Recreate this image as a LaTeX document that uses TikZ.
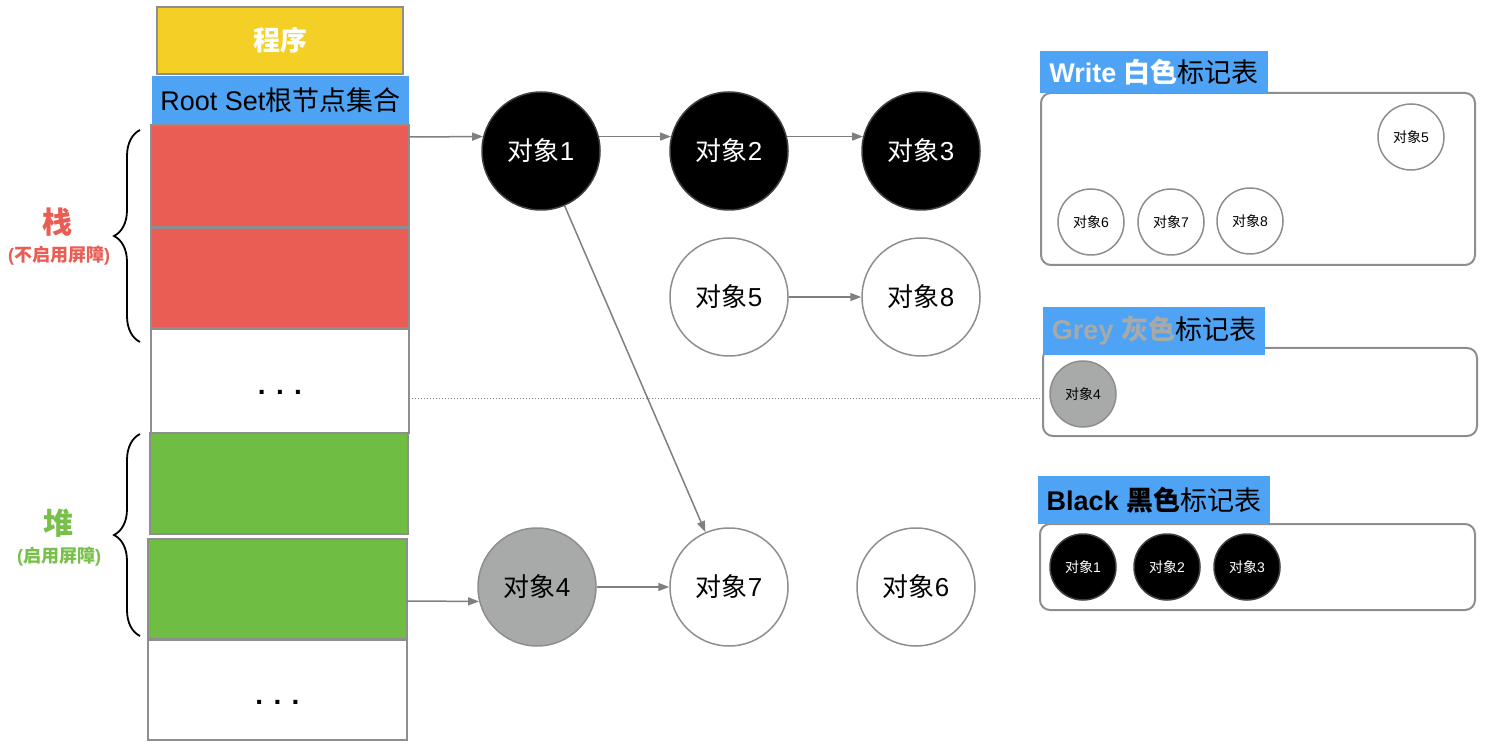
\documentclass[tikz,border=0pt]{standalone}
\usepackage{fontspec}
\setmainfont{Liberation Sans}
\newfontfamily\cjk{Noto Sans CJK SC}
\usetikzlibrary{arrows.meta,decorations.pathreplacing,calc}
\definecolor{pyellow}{HTML}{F4D027}
\definecolor{pblue}{HTML}{4FA3F5}
\definecolor{pred}{HTML}{E95D55}
\definecolor{pgreen}{HTML}{70BD43}
\definecolor{tgreen}{HTML}{78C04A}
\definecolor{bordergray}{HTML}{8E8E8E}
\definecolor{linegray}{HTML}{7F7F7F}
\definecolor{objgrey}{HTML}{A7AAA8}
\definecolor{greytext}{HTML}{A8AAA9}
\newcommand\zh[1]{{\cjk #1}}
\begin{document}
\begin{tikzpicture}[x=1pt,y=-1pt,
  stackbox/.style={draw=bordergray, line width=2pt, minimum width=258, minimum height=100, inner sep=0pt, outer sep=0pt},
  bigobj/.style={circle, draw=bordergray, line width=1.5pt, minimum size=118, inner sep=0pt, font=\fontsize{26}{30}\selectfont},
  smallobj/.style={circle, draw=bordergray, line width=1.5pt, minimum size=66, inner sep=0pt, font=\fontsize{14}{16}\selectfont},
  blackobj/.style={fill=black, draw=black!75, text=white},
  whiteobj/.style={fill=white},
  greyobj/.style={fill=objgrey},
  arr/.style={draw=linegray, line width=1.5pt, -{Triangle[length=11pt,width=8pt]}},
  panel/.style={draw=bordergray, line width=2pt, rounded corners=10pt, inner sep=0pt},
  tlabel/.style={fill=pblue, inner sep=0pt, minimum height=46, font=\fontsize{27}{30}\selectfont},
  bracestyle/.style={decorate, decoration={brace, amplitude=26pt}, line width=1.8pt},
  dotstext/.style={font=\fontsize{28}{30}\selectfont\bfseries}
]
\useasboundingbox (0,0) rectangle (1500,751);

% stack column
\node[stackbox, fill=pyellow, minimum width=246, minimum height=67, text=white, font=\fontsize{27}{30}\selectfont\bfseries] (prog) at (280,40.5) {\zh{程序}};
\node[fill=pblue, minimum width=257, minimum height=48, inner sep=0pt, font=\fontsize{27}{30}\selectfont] (root) at (280.5,100) {Root Set\zh{根节点集合}};
\node[stackbox, fill=pred, minimum height=102] (r1) at (280,176) {};
\node[stackbox, fill=pred] (r2) at (280,278) {};
\node[stackbox, fill=white, minimum height=104, dotstext] (d1) at (280,381) {\raisebox{-14pt}[0pt][0pt]{. . .}};
\node[stackbox, fill=pgreen, minimum height=101] (g1) at (279,483.5) {};
\node[stackbox, fill=pgreen, minimum width=259] (g2) at (277.5,589) {};
\node[stackbox, fill=white, minimum width=259, dotstext] (d2) at (277.5,690) {\raisebox{-14pt}[0pt][0pt]{. . .}};

% braces and labels
\coordinate (sb1) at (140,342);
\coordinate (st1) at (140,130);
\coordinate (hb1) at (140,636);
\coordinate (ht1) at (140,434);
\draw[bracestyle] (sb1) -- (st1);
\draw[bracestyle] (hb1) -- (ht1);
\node[text=pred, font=\fontsize{30}{32}\selectfont\bfseries] (zhan) at (57,222) {\zh{栈}};
\node[text=pred, font=\fontsize{18}{20}\selectfont\bfseries] (zhannote) at (59,256) {(\zh{不启用屏障})};
\node[text=tgreen, font=\fontsize{30}{32}\selectfont\bfseries] (dui) at (58,523) {\zh{堆}};
\node[text=tgreen, font=\fontsize{18}{20}\selectfont\bfseries] (duinote) at (59,557) {(\zh{启用屏障})};

% object graph
\node[bigobj, blackobj] (o1) at (541,151) {\zh{对象}1};
\node[bigobj, blackobj] (o2) at (729,151) {\zh{对象}2};
\node[bigobj, blackobj] (o3) at (921,151) {\zh{对象}3};
\node[bigobj, whiteobj] (o5) at (729,297) {\zh{对象}5};
\node[bigobj, whiteobj] (o8) at (921,297) {\zh{对象}8};
\node[bigobj, greyobj] (o4) at (537,587) {\zh{对象}4};
\node[bigobj, whiteobj] (o7) at (729,587) {\zh{对象}7};
\node[bigobj, whiteobj] (o6) at (916,587) {\zh{对象}6};

\draw[arr] ([yshift=-12pt]r1.north east) -- (o1.166);
\draw[arr] (o1.14) -- (o2.166);
\draw[arr] (o2.14) -- (o3.166);
\draw[arr] (o5) -- (o8);
\draw[arr] (o1) -- (o7);
\draw[arr] (o4) -- (o7);
\draw[arr] ([yshift=-12pt]g2.east) -- (o4.194);

% right panels
\node[panel, minimum width=434, minimum height=172] (wpanel) at (1258,179) {};
\node[panel, minimum width=434, minimum height=88] (gpanel) at (1260,392) {};
\node[panel, minimum width=435, minimum height=86] (bpanel) at (1257.5,567) {};

\draw[linegray, dotted, line width=1pt] ([yshift=-17pt]d1.east) -- ([yshift=-17pt]d1.east -| gpanel.west);

\node[tlabel, minimum width=228, minimum height=42] (wlabel) at (1154,72) {\textcolor{white}{\textbf{Write \zh{白色}}}\zh{标记表}};
\node[tlabel, minimum width=222, minimum height=48] (glabel) at (1154,331) {\textcolor{greytext}{\textbf{Grey \zh{灰色}}}\zh{标记表}};
\node[tlabel, minimum width=232, minimum height=48] (blabel) at (1154,500) {\textbf{Black \zh{黑色}}\zh{标记表}};

\node[smallobj, whiteobj] (w5) at (1411,137) {\zh{对象}5};
\node[smallobj, whiteobj] (w6) at (1091,222) {\zh{对象}6};
\node[smallobj, whiteobj] (w7) at (1171,222) {\zh{对象}7};
\node[smallobj, whiteobj] (w8) at (1250,221) {\zh{对象}8};
\node[smallobj, greyobj] (s4) at (1083,394) {\zh{对象}4};
\node[smallobj, blackobj] (s1) at (1083,567) {\zh{对象}1};
\node[smallobj, blackobj] (s2) at (1167,567) {\zh{对象}2};
\node[smallobj, blackobj] (s3) at (1247,567) {\zh{对象}3};
\end{tikzpicture}
\end{document}
